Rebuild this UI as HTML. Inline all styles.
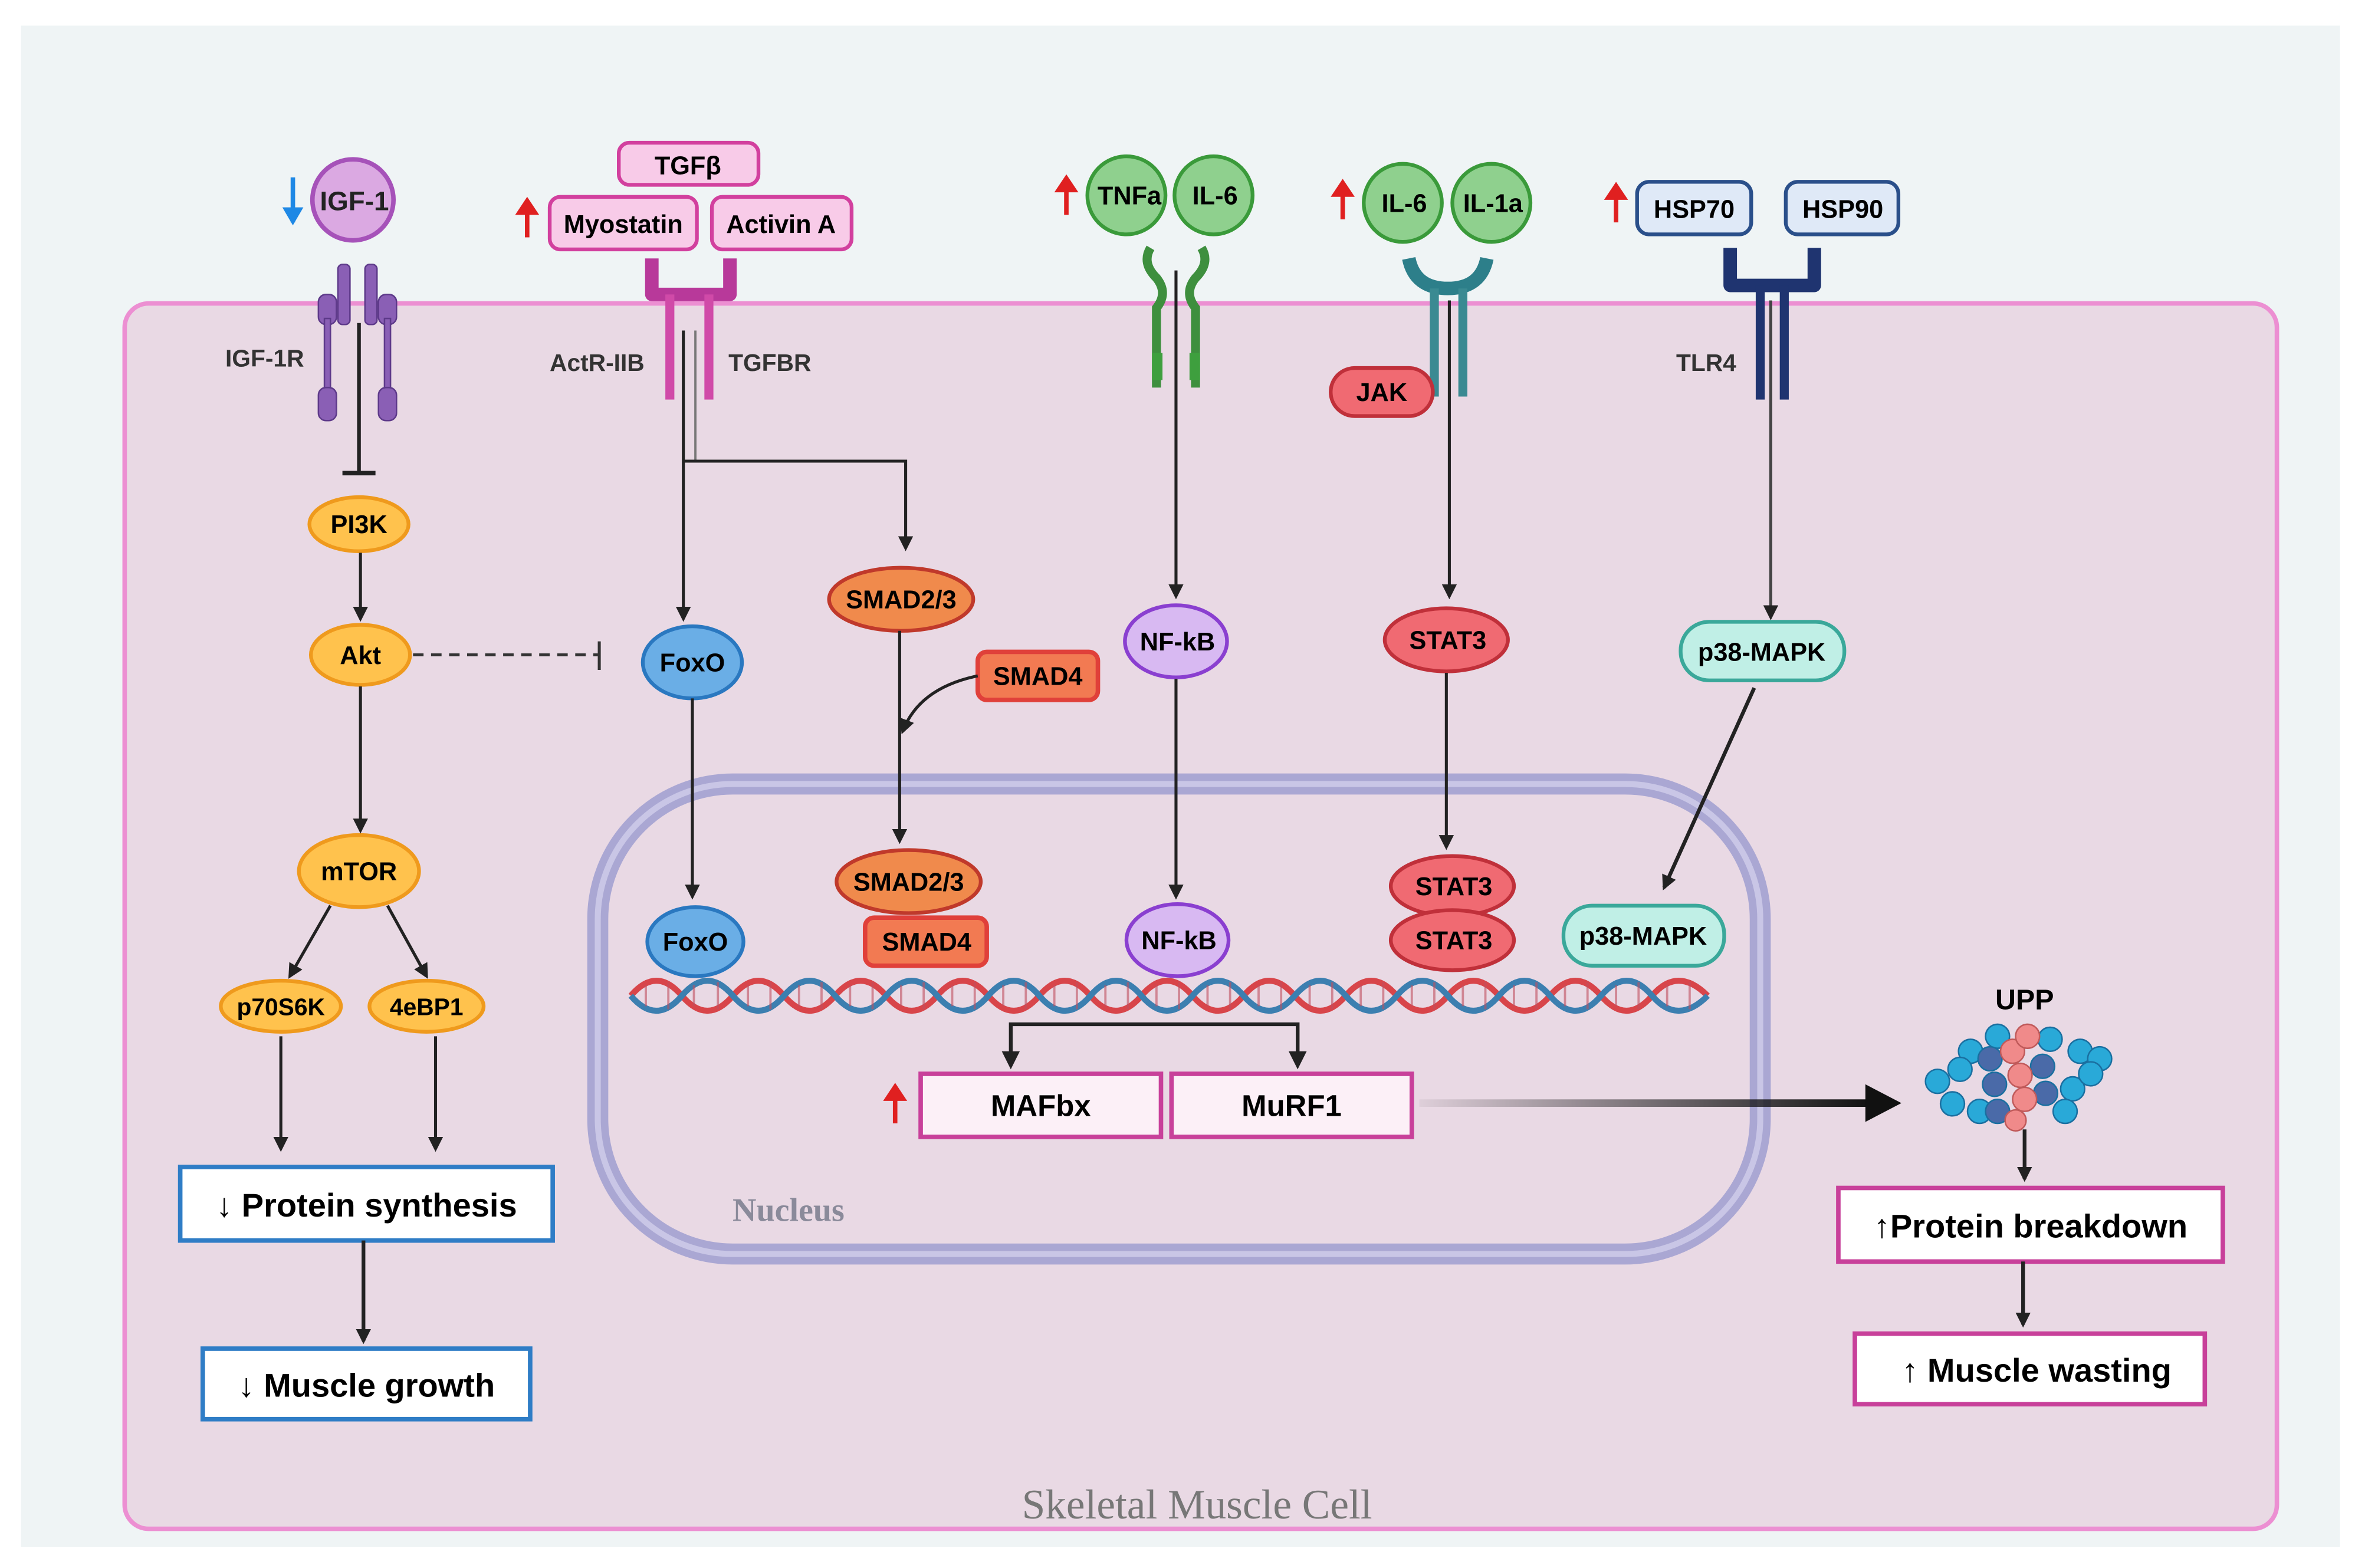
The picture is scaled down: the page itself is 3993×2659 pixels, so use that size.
<!DOCTYPE html>
<html><head><meta charset="utf-8"><style>
html,body{margin:0;padding:0;background:#fff;}
svg{display:block;}
text{font-family:"Liberation Sans",sans-serif;font-weight:bold;}
</style></head><body>
<svg width="3993" height="2659" viewBox="0 0 1568 1044" xmlns="http://www.w3.org/2000/svg">
<defs>
<marker id="ah" markerWidth="10" markerHeight="10" refX="8" refY="5" orient="auto" markerUnits="userSpaceOnUse"><path d="M0,0 L10,5 L0,10 z" fill="#222"/></marker>
<marker id="ahb" markerWidth="22" markerHeight="22" refX="20" refY="11" orient="auto" markerUnits="userSpaceOnUse"><path d="M0,0 L22,11 L0,22 z" fill="#111"/></marker>
<linearGradient id="g1" x1="0" x2="1"><stop offset="0" stop-color="#111" stop-opacity="0.05"/><stop offset="1" stop-color="#111"/></linearGradient>
</defs>
<rect x="14" y="17" width="1544" height="1013" fill="#eff4f5"/>
<rect x="83" y="202" width="1433" height="816" rx="16" fill="#e9d9e4" stroke="#ec8fd2" stroke-width="3"/>
<!-- nucleus -->
<rect x="398" y="522" width="774" height="313" rx="90" fill="none" stroke="#aaa7d3" stroke-width="14"/>
<rect x="398" y="522" width="774" height="313" rx="90" fill="none" stroke="#c9c6e6" stroke-width="4"/>
<text x="525" y="813" font-family="Liberation Serif" font-weight="bold" font-size="22" fill="#8a8a9a" text-anchor="middle" style="font-family:'Liberation Serif',serif">Nucleus</text>
<text x="797" y="1011" font-size="28" fill="#777" text-anchor="middle" style="font-family:'Liberation Serif',serif;font-weight:normal">Skeletal Muscle Cell</text>

<!-- IGF-1 -->
<path d="M195,118 L195,148" stroke="#1e88e5" stroke-width="3"/><path d="M188,138 L195,150 L202,138z" fill="#1e88e5"/>
<circle cx="235" cy="133" r="27" fill="#dba9e2" stroke="#a652b9" stroke-width="3"/>
<text x="236" y="140" font-size="18" text-anchor="middle" fill="#222">IGF-1</text>
<g fill="#8a5fb5" stroke="#5e3a8a" stroke-width="1">
<rect x="225" y="176" width="8" height="40" rx="3"/><rect x="243" y="176" width="8" height="40" rx="3"/>
<rect x="212" y="196" width="12" height="20" rx="5"/><rect x="252" y="196" width="12" height="20" rx="5"/>
<rect x="216" y="212" width="4" height="50"/><rect x="256" y="212" width="4" height="50"/>
<rect x="212" y="258" width="12" height="22" rx="5"/><rect x="252" y="258" width="12" height="22" rx="5"/>
</g>
<text x="150" y="244" font-size="16" fill="#333">IGF-1R</text>
<line x1="239" y1="215" x2="239" y2="315" stroke="#222" stroke-width="2.5"/><line x1="228" y1="315" x2="250" y2="315" stroke="#222" stroke-width="3"/>
<g fill="#ffc24d" stroke="#ef9a1d" stroke-width="2.5">
<ellipse cx="239" cy="349" rx="33" ry="18"/><ellipse cx="240" cy="436" rx="33" ry="20"/>
<ellipse cx="239" cy="580" rx="40" ry="24"/><ellipse cx="187" cy="670" rx="40" ry="17"/><ellipse cx="284" cy="670" rx="38" ry="17"/>
</g>
<text x="239" y="355" font-size="17" text-anchor="middle">PI3K</text>
<text x="240" y="442" font-size="17" text-anchor="middle">Akt</text>
<text x="239" y="586" font-size="17" text-anchor="middle">mTOR</text>
<text x="187" y="676" font-size="16" text-anchor="middle">p70S6K</text>
<text x="284" y="676" font-size="16" text-anchor="middle">4eBP1</text>
<line x1="240" y1="368" x2="240" y2="412" stroke="#222" stroke-width="2" marker-end="url(#ah)"/>
<line x1="275" y1="436" x2="398" y2="436" stroke="#333" stroke-width="2" stroke-dasharray="7,5"/><line x1="399" y1="427" x2="399" y2="446" stroke="#333" stroke-width="2"/>
<line x1="240" y1="457" x2="240" y2="553" stroke="#222" stroke-width="2" marker-end="url(#ah)"/>
<line x1="220" y1="603" x2="193" y2="650" stroke="#222" stroke-width="2" marker-end="url(#ah)"/>
<line x1="258" y1="603" x2="284" y2="650" stroke="#222" stroke-width="2" marker-end="url(#ah)"/>
<line x1="187" y1="690" x2="187" y2="765" stroke="#222" stroke-width="2" marker-end="url(#ah)"/>
<line x1="290" y1="690" x2="290" y2="765" stroke="#222" stroke-width="2" marker-end="url(#ah)"/>
<rect x="120" y="777" width="248" height="49" fill="#fff" stroke="#2f7dc6" stroke-width="3"/>
<text x="244" y="810" font-size="22" text-anchor="middle">↓ Protein synthesis</text>
<line x1="242" y1="826" x2="242" y2="893" stroke="#222" stroke-width="2.5" marker-end="url(#ah)"/>
<rect x="135" y="898" width="218" height="47" fill="#fff" stroke="#2f7dc6" stroke-width="3"/>
<text x="244" y="930" font-size="22" text-anchor="middle">↓ Muscle growth</text>

<!-- TGF -->
<path d="M351,158 L351,138" stroke="#e02020" stroke-width="3"/><path d="M343,143 L351,131 L359,143z" fill="#e02020"/>
<g fill="#f8cbe8" stroke="#d2409e" stroke-width="2.5">
<rect x="412" y="95" width="93" height="28" rx="7"/><rect x="366" y="131" width="98" height="35" rx="7"/><rect x="474" y="131" width="93" height="35" rx="7"/>
</g>
<text x="458" y="116" font-size="17" text-anchor="middle">TGFβ</text>
<text x="415" y="155" font-size="17" text-anchor="middle">Myostatin</text>
<text x="520" y="155" font-size="17" text-anchor="middle">Activin A</text>
<path d="M434,172 L434,196 L486,196 L486,172" fill="none" stroke="#b8399a" stroke-width="9" stroke-linejoin="round"/>
<rect x="443" y="196" width="6" height="70" fill="#d04aa8"/><rect x="469" y="196" width="6" height="70" fill="#d04aa8"/>
<text x="366" y="247" font-size="16" fill="#333">ActR-IIB</text>
<text x="485" y="247" font-size="16" fill="#333">TGFBR</text>
<line x1="455" y1="220" x2="455" y2="412" stroke="#222" stroke-width="2" marker-end="url(#ah)"/>
<line x1="463" y1="220" x2="463" y2="307" stroke="#777" stroke-width="1.5"/>
<polyline points="455,307 603,307 603,365" fill="none" stroke="#222" stroke-width="2" marker-end="url(#ah)"/>
<ellipse cx="461" cy="441" rx="33" ry="24" fill="#6aaee6" stroke="#2a78c0" stroke-width="2.5"/>
<text x="461" y="447" font-size="17" text-anchor="middle">FoxO</text>
<line x1="461" y1="465" x2="461" y2="597" stroke="#222" stroke-width="2" marker-end="url(#ah)"/>
<ellipse cx="463" cy="627" rx="32" ry="23" fill="#6aaee6" stroke="#2a78c0" stroke-width="2.5"/>
<text x="463" y="633" font-size="17" text-anchor="middle">FoxO</text>

<ellipse cx="600" cy="399" rx="48" ry="21" fill="#f08a4c" stroke="#c0392b" stroke-width="2.5"/>
<text x="600" y="405" font-size="17" text-anchor="middle">SMAD2/3</text>
<rect x="651" y="434" width="80" height="32" rx="6" fill="#f27a52" stroke="#e0403a" stroke-width="3"/>
<text x="691" y="456" font-size="17" text-anchor="middle">SMAD4</text>
<line x1="599" y1="420" x2="599" y2="560" stroke="#222" stroke-width="2" marker-end="url(#ah)"/>
<path d="M651,450 Q612,458 601,487" fill="none" stroke="#222" stroke-width="2" marker-end="url(#ah)"/>
<ellipse cx="605" cy="587" rx="48" ry="21" fill="#f08a4c" stroke="#c0392b" stroke-width="2.5"/>
<text x="605" y="593" font-size="17" text-anchor="middle">SMAD2/3</text>
<rect x="576" y="611" width="81" height="32" rx="6" fill="#f27a52" stroke="#e0403a" stroke-width="3"/>
<text x="617" y="633" font-size="17" text-anchor="middle">SMAD4</text>

<!-- TNF -->
<path d="M710,143 L710,123" stroke="#e02020" stroke-width="3"/><path d="M702,128 L710,116 L718,128z" fill="#e02020"/>
<g fill="#8fd08e" stroke="#3a9a3a" stroke-width="2.5">
<circle cx="750" cy="130" r="26"/><circle cx="808" cy="130" r="26"/>
<circle cx="934" cy="135" r="26"/><circle cx="993" cy="135" r="26"/>
</g>
<text x="752" y="136" font-size="17" text-anchor="middle">TNFa</text>
<text x="809" y="136" font-size="17" text-anchor="middle">IL-6</text>
<text x="935" y="141" font-size="17" text-anchor="middle">IL-6</text>
<text x="994" y="141" font-size="17" text-anchor="middle">IL-1a</text>
<path d="M766,165 Q760,175 770,185 Q778,195 770,205 L770,258 M800,165 Q806,175 796,185 Q788,195 796,205 L796,258" fill="none" stroke="#3e8f3e" stroke-width="6"/>
<rect x="767" y="235" width="7" height="18" fill="#3e9f3e"/><rect x="792" y="235" width="7" height="18" fill="#3e9f3e"/>
<line x1="783" y1="180" x2="783" y2="397" stroke="#222" stroke-width="2" marker-end="url(#ah)"/>
<ellipse cx="783" cy="427" rx="34" ry="24" fill="#d8b9f2" stroke="#8a3fd0" stroke-width="2.5"/>
<text x="784" y="433" font-size="17" text-anchor="middle">NF-kB</text>
<line x1="783" y1="452" x2="783" y2="597" stroke="#222" stroke-width="2" marker-end="url(#ah)"/>
<ellipse cx="784" cy="626" rx="34" ry="24" fill="#d8b9f2" stroke="#8a3fd0" stroke-width="2.5"/>
<text x="785" y="632" font-size="17" text-anchor="middle">NF-kB</text>

<!-- IL-6 JAK STAT -->
<path d="M894,146 L894,126" stroke="#e02020" stroke-width="3"/><path d="M886,131 L894,119 L902,131z" fill="#e02020"/>
<path d="M938,172 Q942,192 964,192 Q986,192 990,172" fill="none" stroke="#2d7f8a" stroke-width="9"/>
<rect x="952" y="192" width="6" height="72" fill="#3a8a92"/><rect x="971" y="192" width="6" height="72" fill="#3a8a92"/>
<rect x="886" y="245" width="68" height="32" rx="16" fill="#f06a72" stroke="#c0303a" stroke-width="2.5"/>
<text x="920" y="267" font-size="17" text-anchor="middle">JAK</text>
<line x1="965" y1="200" x2="965" y2="397" stroke="#222" stroke-width="2" marker-end="url(#ah)"/>
<ellipse cx="963" cy="426" rx="41" ry="21" fill="#f06a72" stroke="#c0303a" stroke-width="2.5"/>
<text x="964" y="432" font-size="17" text-anchor="middle">STAT3</text>
<line x1="963" y1="448" x2="963" y2="564" stroke="#222" stroke-width="2" marker-end="url(#ah)"/>
<ellipse cx="967" cy="590" rx="41" ry="20" fill="#f06a72" stroke="#c0303a" stroke-width="2.5"/>
<ellipse cx="967" cy="626" rx="41" ry="20" fill="#f06a72" stroke="#c0303a" stroke-width="2.5"/>
<text x="968" y="596" font-size="17" text-anchor="middle">STAT3</text>
<text x="968" y="632" font-size="17" text-anchor="middle">STAT3</text>

<!-- HSP TLR4 -->
<path d="M1076,148 L1076,128" stroke="#e02020" stroke-width="3"/><path d="M1068,133 L1076,121 L1084,133z" fill="#e02020"/>
<g fill="#dfe9f7" stroke="#2a4f8a" stroke-width="2.5">
<rect x="1090" y="121" width="76" height="35" rx="8"/><rect x="1189" y="121" width="75" height="35" rx="8"/>
</g>
<text x="1128" y="145" font-size="17" text-anchor="middle">HSP70</text>
<text x="1227" y="145" font-size="17" text-anchor="middle">HSP90</text>
<path d="M1152,165 L1152,190 L1208,190 L1208,165" fill="none" stroke="#1f3470" stroke-width="9" stroke-linejoin="round"/>
<rect x="1169" y="190" width="6" height="76" fill="#1f3470"/><rect x="1185" y="190" width="6" height="76" fill="#1f3470"/>
<text x="1116" y="247" font-size="16" fill="#333">TLR4</text>
<line x1="1179" y1="200" x2="1179" y2="411" stroke="#444" stroke-width="2" marker-end="url(#ah)"/>
<rect x="1119" y="414" width="109" height="39" rx="19" fill="#c0efe6" stroke="#3aa89a" stroke-width="2.5"/>
<text x="1173" y="440" font-size="17" text-anchor="middle">p38-MAPK</text>
<line x1="1168" y1="458" x2="1108" y2="591" stroke="#222" stroke-width="2.5" marker-end="url(#ah)"/>
<rect x="1041" y="603" width="107" height="40" rx="19" fill="#c0efe6" stroke="#3aa89a" stroke-width="2.5"/>
<text x="1094" y="629" font-size="17" text-anchor="middle">p38-MAPK</text>

<!-- DNA -->
<g fill="none" stroke-width="4">
<path id="s1" d="M420,663 Q437,643 454,663 T488,663 T522,663 T556,663 T590,663 T624,663 T658,663 T692,663 T726,663 T760,663 T794,663 T828,663 T862,663 T896,663 T930,663 T964,663 T998,663 T1032,663 T1066,663 T1100,663 T1137,663" stroke="#d8454a"/>
<path d="M420,663 Q437,683 454,663 T488,663 T522,663 T556,663 T590,663 T624,663 T658,663 T692,663 T726,663 T760,663 T794,663 T828,663 T862,663 T896,663 T930,663 T964,663 T998,663 T1032,663 T1066,663 T1100,663 T1137,663" stroke="#3c7fb0"/>
</g>
<g stroke="#c05060" stroke-width="1.5" opacity="0.6">
<path d="M430,656v14M445,654v18M462,656v14M478,654v18M498,656v14M513,654v18M532,656v14M547,654v18M566,656v14M581,654v18M600,656v14M615,654v18M634,656v14M649,654v18M668,656v14M683,654v18M702,656v14M717,654v18M736,656v14M751,654v18M770,656v14M785,654v18M804,656v14M819,654v18M838,656v14M853,654v18M872,656v14M887,654v18M906,656v14M921,654v18M940,656v14M955,654v18M974,656v14M989,654v18M1008,656v14M1023,654v18M1042,656v14M1057,654v18M1076,656v14M1091,654v18M1110,656v14M1125,654v18"/>
</g>
<polyline points="673,708 673,682 864,682 864,708" fill="none" stroke="#222" stroke-width="2.5"/>
<path d="M667,700 L673,712 L679,700z M858,700 L864,712 L870,700z" fill="#222"/>
<path d="M596,748 L596,728" stroke="#e02020" stroke-width="3"/><path d="M588,733 L596,721 L604,733z" fill="#e02020"/>
<rect x="613" y="715" width="160" height="42" fill="#fcf0f7" stroke="#c8409a" stroke-width="3"/>
<rect x="780" y="715" width="160" height="42" fill="#fcf0f7" stroke="#c8409a" stroke-width="3"/>
<text x="693" y="743" font-size="20" text-anchor="middle">MAFbx</text>
<text x="860" y="743" font-size="20" text-anchor="middle">MuRF1</text>
<rect x="945" y="732" width="300" height="5" fill="url(#g1)"/>
<path d="M1242,722 L1266,734.5 L1242,747z" fill="#111"/>

<!-- UPP -->
<text x="1348" y="672" font-size="19" text-anchor="middle">UPP</text>
<g stroke="#1a6fa0" stroke-width="1">
<g fill="#29a9d8">
<circle cx="1290" cy="720" r="8"/><circle cx="1300" cy="735" r="8"/><circle cx="1312" cy="700" r="8"/><circle cx="1305" cy="712" r="8"/><circle cx="1318" cy="740" r="8"/><circle cx="1385" cy="700" r="8"/><circle cx="1398" cy="705" r="8"/><circle cx="1380" cy="725" r="8"/><circle cx="1392" cy="715" r="8"/><circle cx="1375" cy="740" r="8"/><circle cx="1365" cy="692" r="8"/><circle cx="1330" cy="690" r="8"/>
</g>
<g fill="#4a6aa8"><circle cx="1325" cy="705" r="8"/><circle cx="1328" cy="722" r="8"/><circle cx="1360" cy="710" r="8"/><circle cx="1362" cy="728" r="8"/><circle cx="1330" cy="740" r="8"/></g>
<g fill="#f08a8a" stroke="#c05a5a"><circle cx="1340" cy="700" r="8"/><circle cx="1345" cy="716" r="8"/><circle cx="1348" cy="732" r="8"/><circle cx="1350" cy="690" r="8"/><circle cx="1342" cy="746" r="7"/></g>
</g>
<line x1="1348" y1="752" x2="1348" y2="785" stroke="#222" stroke-width="2.5" marker-end="url(#ah)"/>
<rect x="1224" y="791" width="256" height="49" fill="#fff" stroke="#c8409a" stroke-width="3"/>
<text x="1352" y="824" font-size="22" text-anchor="middle">↑Protein breakdown</text>
<line x1="1347" y1="840" x2="1347" y2="882" stroke="#222" stroke-width="2.5" marker-end="url(#ah)"/>
<rect x="1235" y="888" width="233" height="47" fill="#fff" stroke="#c8409a" stroke-width="3"/>
<text x="1356" y="920" font-size="22" text-anchor="middle">↑ Muscle wasting</text>
</svg>
</body></html>
